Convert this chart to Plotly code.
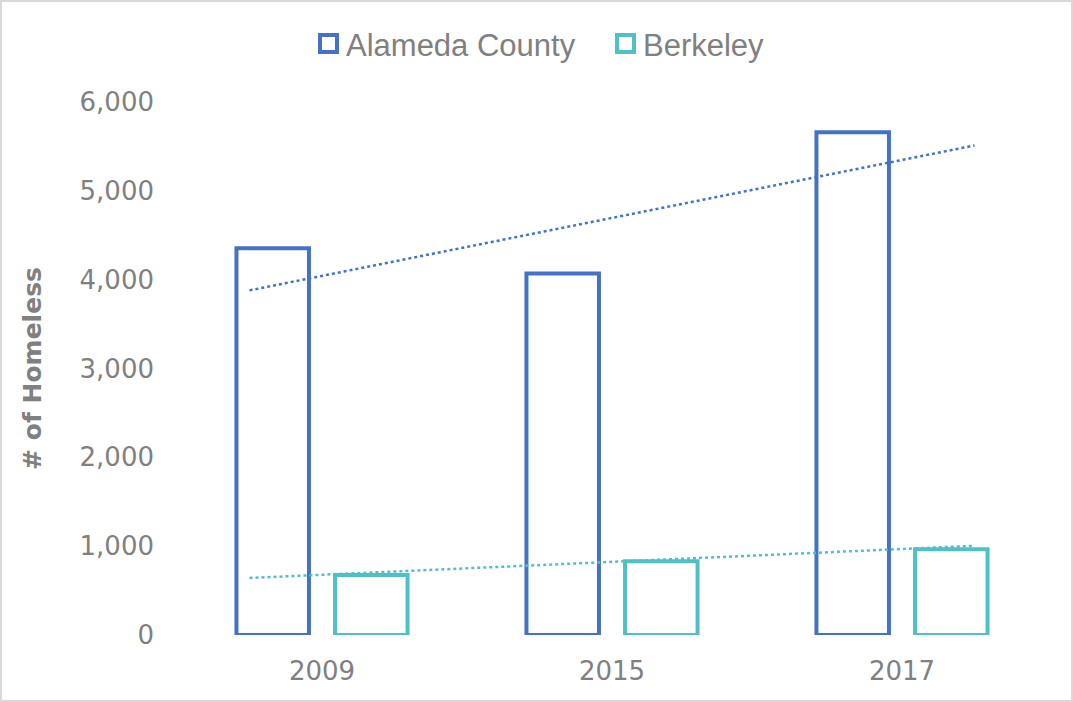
import numpy as np
import plotly.graph_objects as go

# Homeless counts
years = ['2009', '2015', '2017']
alameda = [4355, 4070, 5660]
berkeley = [675, 830, 965]
series_names = ['Alameda County', 'Berkeley']

xpos = np.array([1, 2, 3])
blue = '#4472C4'
teal = '#4FC1C6'
grey = '#808080'

W, H = 1073, 702
ml, mr, mt, mb = 177, 26, 102, 67
pw, ph = W - ml - mr, H - mt - mb


def px_x(v):
    return (v - ml) / pw


def px_y(v):
    return (H - mb - v) / ph


def trend(values):
    # linear trendline over category index, extended 0.25 each side
    k, b = np.polyfit(xpos, values, 1)
    xs = np.array([0.75, 3.25])
    return xs, k * xs + b


fig = go.Figure()

fig.add_trace(go.Bar(x=xpos, y=alameda, name=series_names[0], width=0.25, offset=-0.295,
                     marker=dict(color='rgba(0,0,0,0)', line=dict(color=blue, width=4))))
fig.add_trace(go.Bar(x=xpos, y=berkeley, name=series_names[1], width=0.25, offset=0.045,
                     marker=dict(color='rgba(0,0,0,0)', line=dict(color=teal, width=4))))

tx, ty = trend(alameda)
fig.add_trace(go.Scatter(x=tx, y=ty, mode='lines', hoverinfo='skip',
                         line=dict(color=blue, width=2.5, dash='dot')))
tx, ty = trend(berkeley)
fig.add_trace(go.Scatter(x=tx, y=ty, mode='lines', hoverinfo='skip',
                         line=dict(color=teal, width=2.5, dash='dot')))

# light frame around the whole chart
fig.add_shape(type='rect', xref='paper', yref='paper',
              x0=px_x(1), x1=px_x(W - 1), y0=px_y(H - 1), y1=px_y(1),
              line=dict(color='#D9D9D9', width=2), layer='below')

# legend drawn by hand so the symbol boxes match the large outlined squares
for name, color, box_left in zip(series_names, [blue, teal], [320, 617]):
    fig.add_shape(type='rect', xref='paper', yref='paper',
                  x0=px_x(box_left), x1=px_x(box_left + 17), y0=px_y(52), y1=px_y(35),
                  line=dict(color=color, width=4))
    fig.add_annotation(text=name, xref='paper', yref='paper', x=px_x(box_left + 24), y=px_y(46),
                       xanchor='left', yanchor='middle', showarrow=False,
                       font=dict(family='Liberation Sans, Arial, sans-serif', size=31, color=grey))

fig.update_layout(
    width=W, height=H,
    margin=dict(l=ml, r=mr, t=mt, b=mb),
    paper_bgcolor='white', plot_bgcolor='white',
    font=dict(family='DejaVu Sans, sans-serif', color=grey, size=26),
    showlegend=False,
    xaxis=dict(range=[0.5, 3.5], tickvals=xpos, ticktext=years, showgrid=False,
               zeroline=False, showline=False, ticks='', ticklabelstandoff=18),
    yaxis=dict(range=[0, 6000], tickvals=[0, 1000, 2000, 3000, 4000, 5000, 6000],
               tickformat=',d', showgrid=False, zeroline=False, showline=False, ticks='',
               ticklabelstandoff=22,
               title=dict(text='<b># of Homeless</b>', standoff=30,
                          font=dict(size=25, color=grey))),
)

fig.write_html('out.html', config={'displayModeBar': False},
               post_script="document.body.style.margin='0';")
